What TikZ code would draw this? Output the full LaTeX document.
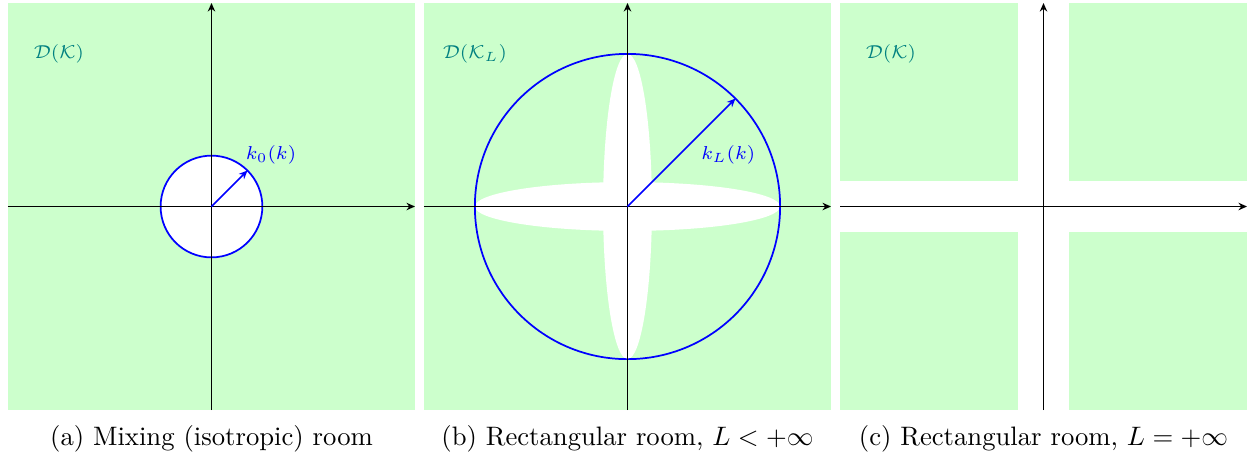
\documentclass[tikz,border=0pt]{standalone}
\usetikzlibrary{arrows.meta}
\definecolor{roomgreen}{HTML}{CCFFCC}
\definecolor{domteal}{HTML}{008080}

\tikzset{
  axis/.style={line width=0.6pt,-{Stealth[length=3.2pt,width=2.8pt]}},
  wavearrow/.style={blue,line width=0.6pt,-{Stealth[length=3.2pt,width=2.8pt]}},
  wavecircle/.style={blue,line width=0.65pt},
  domlabel/.style={text=domteal,font=\scriptsize},
  wavelabel/.style={text=blue,font=\scriptsize},
  subcap/.style={anchor=base}
}

\begin{document}
\begin{tikzpicture}[x=0.6702cm,y=0.6702cm]
\useasboundingbox (-4.157,-4.943) rectangle (20.413,4.059);

% (a) mixing room
\begin{scope}
\fill[roomgreen] (-4,-4) rectangle (4,4);
\fill[white] (0,0) circle (1);
\draw[wavecircle] (0,0) circle (1);
\draw[axis] (-4,0) -- (4,0);
\draw[axis] (0,-4) -- (0,4);
\coordinate (o0) at (0,0);
\coordinate (k0) at (45:1);
\draw[wavearrow] (o0) -- (k0);
\node[wavelabel] (k0lab) at (1.17,1.01) {$k_0(k)$};
\node[domlabel] (dom0) at (-3,3) {$\mathcal{D}(\mathcal{K})$};
\node[subcap] (capa) at (0,-4.69) {(a) Mixing (isotropic) room};
\end{scope}

% (b) rectangular room, finite L
\begin{scope}[xshift=8.177*0.6702cm]
\fill[roomgreen] (-4,-4) rectangle (4,4);
\fill[white] (0,0) ellipse (3 and 0.48);
\fill[white] (0,0) ellipse (0.48 and 3);
\draw[wavecircle] (0,0) circle (3);
\draw[axis] (-4,0) -- (4,0);
\draw[axis] (0,-4) -- (0,4);
\coordinate (oL) at (0,0);
\coordinate (kL) at (45:3);
\draw[wavearrow] (oL) -- (kL);
\node[wavelabel] (kLlab) at (1.98,1.01) {$k_L(k)$};
\node[domlabel] (domL) at (-3,3) {$\mathcal{D}(\mathcal{K}_L)$};
\node[subcap] (capb) at (0,-4.69) {(b) Rectangular room, $L<+\infty$};
\end{scope}

% (c) rectangular room, infinite L
\begin{scope}[xshift=16.354*0.6702cm]
\foreach \sx in {-1,1}
  \foreach \sy in {-1,1}
    \fill[roomgreen] (0.5*\sx,0.5*\sy) rectangle (4*\sx,4*\sy);
\draw[axis] (-4,0) -- (4,0);
\draw[axis] (0,-4) -- (0,4);
\node[domlabel] (dominf) at (-3,3) {$\mathcal{D}(\mathcal{K})$};
\node[subcap] (capc) at (0,-4.69) {(c) Rectangular room, $L=+\infty$};
\end{scope}
\end{tikzpicture}
\end{document}
